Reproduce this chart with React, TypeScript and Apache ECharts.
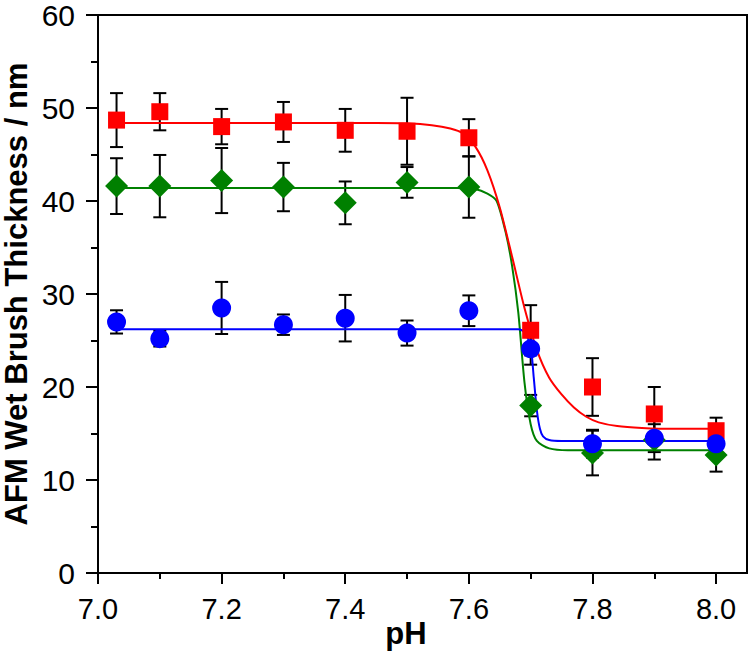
import React, { useEffect, useRef } from "react";
import * as echarts from "echarts";

// pH values of the measurements
const phValues = [7.03, 7.1, 7.2, 7.3, 7.4, 7.5, 7.6, 7.7, 7.8, 7.9, 8.0];

// Red squares
const redValues = [48.7, 49.6, 48.0, 48.5, 47.6, 47.5, 46.8, 26.1, 20.0, 17.1, 15.3];
const redErrors = [2.9, 2.0, 1.9, 2.15, 2.3, 3.6, 2.0, 2.7, 3.1, 2.9, 1.4];

// Green diamonds
const greenValues = [41.6, 41.6, 42.2, 41.5, 39.8, 42.0, 41.5, 18.0, 12.9, 14.3, 12.7];
const greenErrors = [3.0, 3.35, 3.5, 2.6, 2.3, 1.65, 3.3, 1.15, 2.4, 2.1, 1.8];

// Blue circles
const blueValues = [27.0, 25.2, 28.5, 26.7, 27.4, 25.8, 28.2, 24.1, 13.9, 14.5, 13.9];
const blueErrors = [1.25, 0.85, 2.8, 1.1, 2.5, 1.35, 1.65, 1.7, 1.5, 1.5, 1.5];

// Fitted curves
const redFit: [number, number][] = [
  [7.03, 48.4], [7.45, 48.4], [7.5, 48.35], [7.54, 48.15], [7.57, 47.8], [7.59, 47.3],
  [7.61, 45.9], [7.63, 43.3], [7.65, 39.3], [7.67, 34.0], [7.69, 28.5], [7.71, 24.0],
  [7.73, 21.0], [7.75, 19.2], [7.77, 17.8], [7.79, 16.8], [7.81, 16.2], [7.84, 15.8],
  [7.88, 15.6], [7.93, 15.5], [8.0, 15.5],
];
const greenFit: [number, number][] = [
  [7.03, 41.4], [7.58, 41.4], [7.61, 41.3], [7.63, 40.8], [7.645, 40.0], [7.66, 36.5],
  [7.67, 33.0], [7.68, 28.0], [7.69, 20.5], [7.7, 16.0], [7.71, 14.2], [7.73, 13.4],
  [7.76, 13.2], [8.0, 13.2],
];
const blueFit: [number, number][] = [
  [7.03, 26.2], [7.68, 26.2], [7.69, 25.9], [7.7, 24.3], [7.705, 21.0], [7.71, 17.5],
  [7.715, 15.5], [7.72, 14.7], [7.73, 14.3], [7.75, 14.2], [8.0, 14.2],
];

const xMajorTicks = [7.0, 7.2, 7.4, 7.6, 7.8, 8.0];
const xMinorTicks = [7.1, 7.3, 7.5, 7.7, 7.9];

const FONT = "'Liberation Sans', Arial, Helvetica, sans-serif";

function errData(values: number[], errs: number[]) {
  return phValues.map((x, i) => [x, values[i] - errs[i], values[i] + errs[i]]);
}

function errorSeries(values: number[], errs: number[]) {
  return {
    type: "custom",
    xAxisIndex: 0,
    z: 2,
    silent: true,
    encode: { x: 0, y: [1, 2] },
    data: errData(values, errs),
    renderItem: (_params: any, api: any) => {
      const x = api.value(0);
      const lo = api.coord([x, api.value(1)]);
      const hi = api.coord([x, api.value(2)]);
      const hw = 6.5;
      const style = { stroke: "#000", lineWidth: 2 };
      return {
        type: "group",
        children: [
          { type: "line", shape: { x1: lo[0], y1: lo[1], x2: hi[0], y2: hi[1] }, style },
          { type: "line", shape: { x1: lo[0] - hw, y1: lo[1], x2: lo[0] + hw, y2: lo[1] }, style },
          { type: "line", shape: { x1: hi[0] - hw, y1: hi[1], x2: hi[0] + hw, y2: hi[1] }, style },
        ],
      };
    },
  };
}

function fitSeries(data: [number, number][], color: string) {
  return {
    type: "line",
    xAxisIndex: 0,
    z: 3,
    data,
    smooth: 0.25,
    showSymbol: false,
    symbol: "none",
    silent: true,
    lineStyle: { color, width: 2 },
  };
}

function scatterSeries(values: number[], color: string, symbol: string, size: number) {
  return {
    type: "scatter",
    xAxisIndex: 0,
    z: 4,
    silent: true,
    symbol,
    symbolSize: size,
    itemStyle: { color, opacity: 1 },
    data: phValues.map((x, i) => [x, values[i]]),
  };
}

export default function App() {
  const ref = useRef<HTMLDivElement>(null);

  useEffect(() => {
    document.body.style.margin = "0";
    if (!ref.current) return;
    const chart = echarts.init(ref.current, undefined, { renderer: "svg" });
    chart.setOption({
      animation: false,
      backgroundColor: "#fff",
      grid: {
        left: 98,
        right: 3,
        top: 15,
        bottom: 82,
        containLabel: false,
        outerBoundsMode: "none",
        show: true,
        borderColor: "#000",
        borderWidth: 2,
        backgroundColor: "transparent",
      },
      xAxis: [
        {
          type: "value",
          min: 7.0,
          max: 8.05,
          position: "bottom",
          name: "pH",
          nameLocation: "middle",
          nameGap: 45,
          nameMoveOverlap: false,
          nameTextStyle: {
            fontFamily: FONT,
            fontWeight: "bold",
            fontSize: 31,
            color: "#000",
            padding: [0, 33, 0, 0],
          },
          axisLine: { show: true, lineStyle: { color: "#000", width: 2 } },
          axisTick: {
            show: true,
            length: 11,
            lineStyle: { color: "#000", width: 2 },
            customValues: xMajorTicks,
          },
          axisLabel: {
            show: true,
            customValues: xMajorTicks,
            margin: 21,
            fontFamily: FONT,
            fontSize: 29,
            color: "#000",
            formatter: (v: number) => v.toFixed(1),
          },
          splitLine: { show: false },
        },
        {
          type: "value",
          min: 7.0,
          max: 8.05,
          position: "bottom",
          axisLine: { show: false },
          axisTick: {
            show: true,
            length: 6,
            lineStyle: { color: "#000", width: 2 },
            customValues: xMinorTicks,
          },
          axisLabel: { show: false },
          splitLine: { show: false },
        },
      ],
      yAxis: {
        type: "value",
        min: 0,
        max: 60,
        interval: 10,
        name: "AFM Wet Brush Thickness / nm",
        nameLocation: "middle",
        nameGap: 66,
        nameMoveOverlap: false,
        nameTextStyle: {
          fontFamily: FONT,
          fontWeight: "bold",
          fontSize: 31,
          color: "#000",
        },
        axisLine: { show: true, lineStyle: { color: "#000", width: 2 } },
        axisTick: { show: true, length: 12, lineStyle: { color: "#000", width: 2 } },
        minorTick: { show: true, splitNumber: 2, length: 7, lineStyle: { color: "#000", width: 2 } },
        axisLabel: {
          margin: 23,
          fontFamily: FONT,
          fontSize: 30,
          color: "#000",
        },
        splitLine: { show: false },
        minorSplitLine: { show: false },
      },
      series: [
        errorSeries(greenValues, greenErrors),
        errorSeries(redValues, redErrors),
        errorSeries(blueValues, blueErrors),
        fitSeries(greenFit, "#008000"),
        fitSeries(redFit, "#ff0000"),
        fitSeries(blueFit, "#0000ff"),
        scatterSeries(greenValues, "#008000", "diamond", 23),
        scatterSeries(redValues, "#ff0000", "rect", 17),
        scatterSeries(blueValues, "#0000ff", "circle", 19),
      ],
    });
    return () => {
      chart.dispose();
    };
  }, []);

  return <div ref={ref} style={{ width: 750, height: 655 }} />;
}
